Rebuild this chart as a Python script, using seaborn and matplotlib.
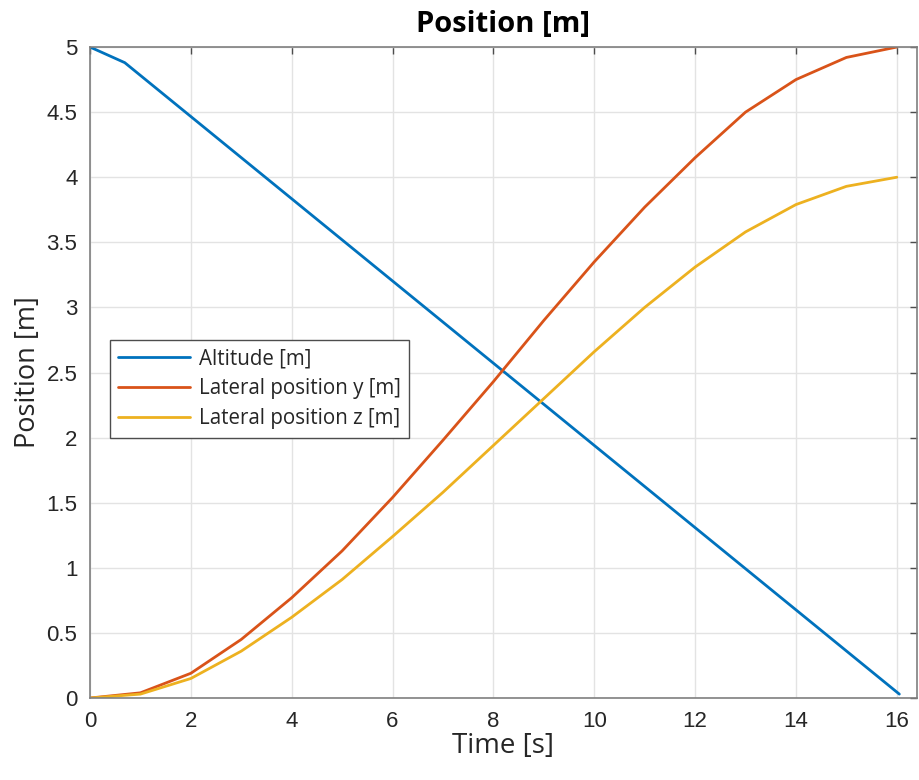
import matplotlib
matplotlib.use("Agg")
import matplotlib.pyplot as plt
import seaborn as sns
import pandas as pd
from matplotlib.ticker import FuncFormatter, MultipleLocator

# Data
t_alt = [0.0, 0.69, 16.05]
altitude = [5.0, 4.88, 0.03]

t_lat = [0, 1, 2, 3, 4, 5, 6, 7, 8, 9, 10, 11, 12, 13, 14, 15, 16]
lat_y = [0.0, 0.04, 0.19, 0.45, 0.77, 1.13, 1.54, 1.98, 2.43, 2.90, 3.35, 3.77, 4.15, 4.50, 4.75, 4.92, 5.0]
lat_z = [0.0, 0.03, 0.15, 0.36, 0.62, 0.91, 1.24, 1.58, 1.94, 2.30, 2.66, 3.00, 3.31, 3.58, 3.79, 3.93, 4.0]

labels = ["Altitude [m]", "Lateral position y [m]", "Lateral position z [m]"]
colors = ["#0072BD", "#D95319", "#EDB120"]

sns.set_theme(style="whitegrid")
plt.rcParams['font.family'] = ['Liberation Sans', 'DejaVu Sans']
label_font = ['Open Sans', 'DejaVu Sans']

fig = plt.figure(figsize=(9.19, 7.8), dpi=100)
ax = fig.add_axes([0.0979, 0.1051, 0.8999, 0.8346])
ax.set_facecolor("white")

df_alt = pd.DataFrame({"t": t_alt, "v": altitude})
df_y = pd.DataFrame({"t": t_lat, "v": lat_y})
df_z = pd.DataFrame({"t": t_lat, "v": lat_z})

for d, lab, c in zip([df_alt, df_y, df_z], labels, colors):
    sns.lineplot(data=d, x="t", y="v", ax=ax, color=c, linewidth=2.0, label=lab)

ax.set_xlim(0, 16.4)
ax.set_ylim(0, 5)
ax.xaxis.set_major_locator(MultipleLocator(2))
ax.yaxis.set_major_locator(MultipleLocator(0.5))
ax.yaxis.set_major_formatter(FuncFormatter(lambda v, p: f"{v:g}"))

ax.grid(True, color="#e3e3e3", linewidth=1.0)
for s in ax.spines.values():
    s.set_visible(True)
    s.set_color("#7f7f7f")
    s.set_linewidth(1.2)

ax.tick_params(axis="both", direction="in", length=5, width=1.0, color="#4d4d4d",
               labelsize=16, labelcolor="#262626", top=True, right=True, pad=9)

ax.set_xlabel("Time [s]", fontsize=20, color="#262626", labelpad=0, family=label_font)
ax.set_ylabel("Position [m]", fontsize=19.5, color="#262626", labelpad=3, family=label_font)
ax.set_title("Position [m]", fontsize=21, fontweight="bold", color="black", pad=11,
             family=label_font)

leg = ax.legend(loc="upper left", bbox_to_anchor=(0.024, 0.55),
                prop={'family': label_font, 'size': 14.8},
                frameon=True, fancybox=False, shadow=False, framealpha=1,
                edgecolor="#4d4d4d", handlelength=3.5, borderpad=0.42,
                labelspacing=0.42, handletextpad=0.4, borderaxespad=0)
leg.get_frame().set_linewidth(1.0)
for txt in leg.get_texts():
    txt.set_color("#262626")

fig.savefig("out.png", dpi=100, facecolor="white")
